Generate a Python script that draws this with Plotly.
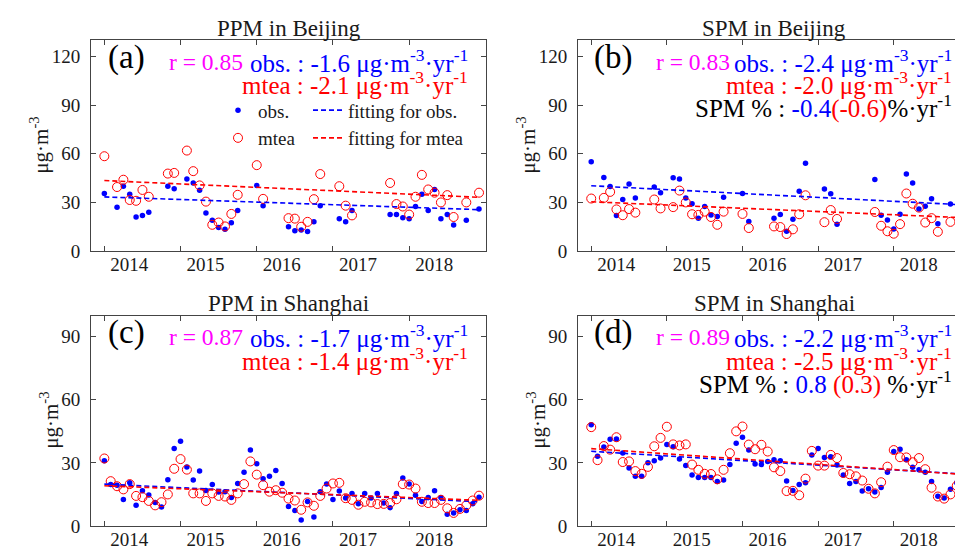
import plotly.graph_objects as go

# ---------------- data ----------------
months_bj = [0, 2, 3, 4, 5, 6, 7, 10, 11, 13, 14, 15, 16, 17, 18, 19, 20, 21, 24, 25,
             29, 30, 31, 32, 33, 34, 37, 38, 39, 45, 46, 47, 48, 49, 50, 51, 52, 53, 54, 55, 57, 59]
months_sh = list(range(60))

ppm_bj_obs = [35.5, 27, 40, 35, 21, 22, 24, 40, 38.5, 44.5, 42, 37.5, 23.5, 19, 14.5, 13.5, 17.5, 25,
              40.5, 28, 15, 12.5, 13, 12, 18, 28, 20, 18, 25, 22.5, 22.5, 20.5, 20, 27.5, 35, 25, 38,
              20, 22.5, 16, 19, 26]
ppm_bj_mtea = [58.5, 39.5, 44, 31.5, 31, 37.7, 33.5, 47.8, 48.2, 62, 49.3, 40.5, 30.5, 16.2, 17.6, 15.2,
               22.9, 34.7, 53, 32.2, 20.3, 20, 15, 18, 32, 47.5, 40, 28, 22, 42, 29, 27.5, 22.5, 33.5,
               47, 38, 36, 30, 34.5, 21, 30, 36]
spm_bj_obs = [55.1, 45.4, 39.9, 21.9, 31.8, 41.3, 32.8, 39.5, 36, 45.2, 44.4, 32.8, 29.2, 20.3, 27.5,
              22.3, 21.3, 33.2, 35.5, 18.2, 20.3, 22.5, 12.2, 19.6, 36.9, 54.1, 38.3, 35.3, 16.6, 44.2,
              22.1, 19.2, 13.6, 22.7, 47.6, 42, 25.9, 27.7, 32.2, 16.8, 29, 28.2]
spm_bj_mtea = [32.4, 32.8, 36.5, 25.7, 22.1, 25.9, 23.7, 31.8, 26.3, 27.1, 37.3, 30, 22.7, 22.3, 24.3,
               21, 16.2, 24.3, 22.9, 14.2, 15.2, 14.8, 10.5, 13.4, 22.7, 34.4, 17.8, 25.3, 19.8, 24.1,
               15.6, 12.2, 10.7, 16.6, 35.5, 29.2, 26.8, 17.6, 20.3, 11.9, 18, 17.6]
ppm_sh_obs = [31.0, 19.7, 19.4, 12.6, 20.5, 9.9, 16.8, 14.7, 11.2, 9.0,
              22.0, 36.9, 40.3, 28.1, 21.9, 26.1, 16.9, 19.7, 16.1, 16.3,
              13.5, 20.2, 25.6, 36.1, 29.6, 22.4, 23.6, 26.4, 20.2, 9.3,
              7.3, 2.8, 11.6, 4.3, 16.3, 19.9, 12.6, 16.6, 13.3, 15.4,
              10.5, 15.4, 13.3, 15.4, 10.9, 8.7, 15.4, 22.8, 19.9, 14.6,
              11.6, 13.5, 16.8, 13.5, 5.6, 6.2, 7.7, 7.4, 10.5, 13.6]
ppm_sh_mtea = [32.1, 21.3, 18.9, 17.4, 19.9, 14.3, 13.7, 11.9, 9.8, 11.3,
               15.0, 27.2, 31.8, 26.8, 15.5, 15.5, 11.9, 15.5, 14.3, 14.0,
               12.4, 15.5, 19.9, 30.7, 24.4, 19.4, 16.3, 17.0, 15.8, 13.0,
               12.1, 7.7, 11.2, 9.6, 14.3, 17.8, 20.2, 20.5, 13.2, 12.4,
               10.1, 11.5, 11.2, 10.4, 10.5, 10.9, 12.7, 19.9, 19.7, 17.8,
               11.5, 10.9, 10.9, 12.4, 8.4, 6.2, 8.1, 9.8, 12.1, 14.4]
spm_sh_obs = [48.1, 33.2, 37.5, 41.3, 41.4, 34.7, 27.6, 23.6, 23.6, 30.1,
              31.0, 32.3, 38.8, 37.7, 31.8, 28.7, 24.2, 23.1, 23.1, 23.1,
              21.2, 21.9, 29.2, 39.3, 42.2, 36.1, 29.5, 29.2, 30.7, 31.5,
              31.0, 21.4, 16.9, 19.7, 20.5, 33.8, 36.8, 32.6, 32.9, 29.0,
              24.2, 20.2, 21.2, 16.6, 17.7, 16.1, 18.3, 25.6, 35.4, 36.5,
              31.5, 27.9, 26.7, 25.6, 21.2, 14.1, 13.3, 17.4, 20.6, 26.4]
spm_sh_mtea = [47.0, 31.3, 38.0, 36.3, 42.2, 30.4, 30.7, 26.1, 24.8, 28.1,
               37.9, 41.9, 47.2, 38.8, 38.3, 38.8, 29.2, 26.7, 24.8, 24.7,
               22.2, 26.7, 34.6, 45.0, 47.3, 38.7, 36.5, 38.6, 35.4, 27.9,
               26.1, 16.6, 16.7, 14.6, 22.5, 35.7, 28.7, 28.7, 33.8, 32.3,
               25.2, 24.6, 23.6, 21.6, 17.7, 15.5, 20.8, 28.2, 36.1, 32.7,
               32.6, 30.3, 32.3, 27.0, 18.2, 14.0, 13.0, 15.0, 19.1, 26.1]

# trend lines: value at first month and slope (per year) for obs / mtea
fit_start_obs = [33.4, 40.3, 19.9, 35.5]
fit_start_mtea = [43.5, 30.4, 19.1, 36.8]
slope_obs = [-1.6, -2.4, -1.7, -2.2]
slope_mtea = [-2.1, -2.0, -1.4, -2.5]
r_values = [0.85, 0.83, 0.87, 0.89]
spm_pct_obs = {"b": "-0.4", "d": "0.8"}
spm_pct_mtea = {"b": "(-0.6)", "d": "(0.3)"}

panel_titles = ["PPM in Beijing", "SPM in Beijing", "PPM in Shanghai", "SPM in Shanghai"]
panel_letters = ["(a)", "(b)", "(c)", "(d)"]
year_labels = ["2014", "2015", "2016", "2017", "2018"]
year_tick_months = [0, 12, 24, 36, 48]

# ---------------- layout helpers ----------------
W, H = 963, 551
FONT = "Liberation Serif, Times New Roman, Times, serif"
BLUE, RED, MAG = "#0000FF", "#FF0000", "#FF00FF"
TXT = "#1a1a1a"


def px(x):
    return x / W


def py(y):
    return 1 - y / H


panels = [
    dict(x0=83, x1=478, y0=33, y1=248, ymax=130, ytick=[0, 30, 60, 90, 120]),
    dict(x0=570, x1=962, y0=33, y1=248, ymax=130, ytick=[0, 30, 60, 90, 120]),
    dict(x0=83, x1=478, y0=314, y1=528.5, ymax=100, ytick=[0, 30, 60, 90]),
    dict(x0=570, x1=962, y0=314, y1=528.5, ymax=100, ytick=[0, 30, 60, 90]),
]
series = [
    (months_bj, ppm_bj_obs, ppm_bj_mtea),
    (months_bj, spm_bj_obs, spm_bj_mtea),
    (months_sh, ppm_sh_obs, ppm_sh_mtea),
    (months_sh, spm_sh_obs, spm_sh_mtea),
]

fig = go.Figure()
layout = dict(
    width=W, height=H, margin=dict(l=0, r=0, t=0, b=0),
    paper_bgcolor="white", plot_bgcolor="white",
    font=dict(family=FONT, size=19, color=TXT),
    showlegend=True,
)
annotations = []
AXCOL = "#444444"


def ann(text, x, y, size, color, xanchor="center", angle=0):
    annotations.append(dict(text=text, x=px(x), y=py(y), xref="paper", yref="paper",
                            showarrow=False, xanchor=xanchor, yanchor="middle", textangle=angle,
                            font=dict(family=FONT, size=size, color=color)))


for i, (p, (mon, obs, mtea)) in enumerate(zip(panels, series)):
    k = "" if i == 0 else str(i + 1)
    xa, ya = "x" + k, "y" + k
    leg = i == 0
    fig.add_trace(go.Scatter(x=mon, y=obs, mode="markers", name="obs.", xaxis=xa, yaxis=ya,
                             marker=dict(color=BLUE, size=5.5, symbol="circle"),
                             showlegend=leg, legend="legend"))
    fig.add_trace(go.Scatter(x=mon, y=mtea, mode="markers", name="mtea", xaxis=xa, yaxis=ya,
                             marker=dict(color=RED, size=9, symbol="circle-open",
                                         line=dict(color=RED, width=1)),
                             showlegend=leg, legend="legend"))
    fm = [mon[0], mon[-1]]
    fobs = [fit_start_obs[i] + slope_obs[i] * (m - mon[0]) / 12 for m in fm]
    fmtea = [fit_start_mtea[i] + slope_mtea[i] * (m - mon[0]) / 12 for m in fm]
    fig.add_trace(go.Scatter(x=fm, y=fobs, mode="lines", name="fitting for obs.", xaxis=xa, yaxis=ya,
                             line=dict(color=BLUE, width=1.6, dash="5px,3px"),
                             showlegend=leg, legend="legend2"))
    fig.add_trace(go.Scatter(x=fm, y=fmtea, mode="lines", name="fitting for mtea", xaxis=xa, yaxis=ya,
                             line=dict(color=RED, width=1.6, dash="5px,3px"),
                             showlegend=leg, legend="legend2"))

    layout["xaxis" + k] = dict(
        domain=[px(p["x0"]), px(p["x1"])], range=[-2.1, 60.1], anchor=ya,
        tickvals=year_tick_months, ticktext=year_labels, ticks="inside", ticklen=5,
        tickcolor=AXCOL, ticklabelshift=25, ticklabelstandoff=-4, showgrid=False, zeroline=False,
        showline=True, linecolor=AXCOL, linewidth=1, mirror="ticks",
        tickfont=dict(family=FONT, size=19, color=TXT),
    )
    layout["yaxis" + k] = dict(
        domain=[py(p["y1"]), py(p["y0"])], range=[0, p["ymax"]], anchor=xa,
        tickvals=p["ytick"], ticks="inside", ticklen=5, tickcolor=AXCOL, ticklabelstandoff=6,
        showgrid=False, zeroline=False, showline=True, linecolor=AXCOL, linewidth=1,
        mirror="ticks", tickfont=dict(family=FONT, size=19, color=TXT),
    )

    cx = (p["x0"] + p["x1"]) / 2
    off = p["x0"]
    ytop = p["y0"]
    right = p["x1"] - 16
    ann(panel_titles[i], cx, ytop - 12, 23, TXT)
    ann("μg·m<sup>-3</sup>", off - (51 if i < 2 else 41), (p["y0"] + p["y1"]) / 2, 21, TXT, angle=-90)
    ann(panel_letters[i], off + 35, ytop + 17, 33, "#000000")
    ann("r = %.2f" % r_values[i], off + 115, ytop + 22, 23.5, MAG)
    ann("obs. : %.1f μg·m<sup>-3</sup>·yr<sup>-1</sup>" % slope_obs[i], right, ytop + 21, 25, BLUE,
        xanchor="right")
    ann("mtea : %.1f μg·m<sup>-3</sup>·yr<sup>-1</sup>" % slope_mtea[i], right, ytop + 44, 25, RED,
        xanchor="right")
    if i in (1, 3):
        key = "b" if i == 1 else "d"
        sep = "" if i == 1 else " "
        txt = ("SPM %% : <span style='color:%s'>%s</span>%s<span style='color:%s'>%s</span>%s%%·yr<sup>-1</sup>"
               % (BLUE, spm_pct_obs[key], sep, RED, spm_pct_mtea[key], sep))
        ann(txt, right, ytop + 68, 25, "#000000", xanchor="right")

layout["annotations"] = annotations
layout["legend"] = dict(x=px(210), y=py(85), xanchor="left", yanchor="top", bgcolor="rgba(0,0,0,0)",
                        font=dict(family=FONT, size=19, color=TXT), tracegroupgap=0,
                        itemwidth=30)
layout["legend2"] = dict(x=px(300), y=py(85), xanchor="left", yanchor="top", bgcolor="rgba(0,0,0,0)",
                         font=dict(family=FONT, size=19, color=TXT), tracegroupgap=0,
                         itemwidth=30)
fig.update_layout(**layout)
fig.write_html("out.html")
